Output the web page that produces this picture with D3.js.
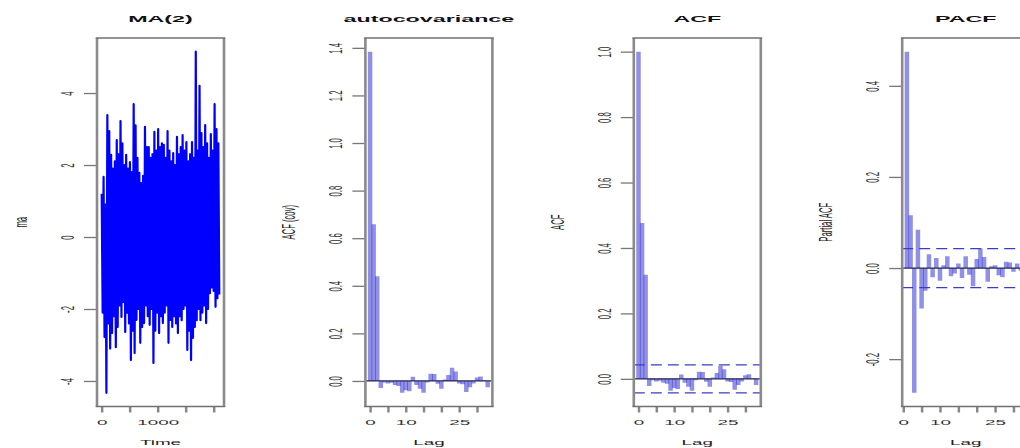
<!DOCTYPE html>
<html>
<head>
<meta charset="utf-8">
<script src="https://cdn.jsdelivr.net/npm/d3@7"></script>
<style>
  body { margin: 0; background: #fff; }
  svg { display: block; background: #fff; }
</style>
</head>
<body>
<div id="chart"></div>
<script>
// ---- data ----

// simulated MA(2) series, sampled across the time axis (alternating up / down swings)
const maSeries = [
  1.2, -2.1, 1.67, -2.78, 0.9,
  -4.33, 3.39, -2.4, 2.94, -3.1,
  2.28, -2.67, 1.9, -2.2, 2.1,
  -3.06, 2.69, -2.5, 2.3, -1.9,
  3.22, -2.22, 2.6, -1.8, 2.0,
  -2.64, 2.28, -2.1, 1.9, -2.4,
  2.08, -3.42, 1.8, -2.6, 3.69,
  -3.22, 3.1, -2.3, 2.2, -2.0,
  1.78, -2.94, 1.5, -2.5, 1.7,
  -2.39, 3.06, -1.9, 2.5, -2.2,
  2.5, -2.44, 2.2, -2.0, 2.3,
  -3.5, 2.92, -2.6, 2.4, -2.1,
  3.0, -2.67, 2.5, -2.2, 2.6,
  -2.39, 2.56, -2.1, 2.2, -1.9,
  2.94, -2.94, 2.4, -2.3, 2.1,
  -2.5, 2.33, -2.2, 2.0, -2.4,
  2.78, -2.67, 2.3, -2.2, 2.5,
  -2.31, 2.83, -2.0, 2.4, -1.9,
  2.64, -3.14, 2.1, -2.6, 2.3,
  -3.42, 2.64, -2.8, 2.2, -2.5,
  5.15, -2.31, 2.4, -2.0, 4.2,
  -2.31, 2.89, -2.1, 2.5, -1.9,
  3.11, -2.39, 2.6, -2.0, 2.2,
  -1.56, 2.86, -1.4, 2.4, -1.5,
  3.69, -1.94, 3.0, -1.7, 2.6,
  -1.6
];
const timeStart = 1, timeEnd = 2100;

const lags = d3.range(0, 34);
const autocov = [
  1.384, 0.659, 0.440, -0.030, -0.006, -0.011, -0.008, -0.017, -0.021, -0.050,
  -0.039, -0.043, 0.018, -0.017, -0.033, -0.050, -0.006, 0.030, 0.029, -0.012,
  -0.033, 0.006, 0.025, 0.055, 0.040, -0.011, -0.014, -0.046, -0.026, -0.011,
  0.015, 0.019, 0.003, -0.026
];
const acfValues = [
  1.000, 0.476, 0.318, -0.022, -0.004, -0.008, -0.006, -0.012, -0.015, -0.036,
  -0.028, -0.031, 0.013, -0.012, -0.024, -0.036, -0.004, 0.022, 0.021, -0.009,
  -0.024, 0.004, 0.018, 0.040, 0.029, -0.008, -0.010, -0.033, -0.019, -0.008,
  0.011, 0.014, 0.002, -0.019
];
const pacfLags = d3.range(1, 34);
const pacfValues = [
  0.475, 0.116, -0.274, 0.084, -0.089, -0.050, 0.030, -0.020, 0.022, -0.028,
  0.006, 0.026, -0.018, -0.012, 0.010, -0.022, 0.026, -0.015, -0.040, 0.020,
  0.043, 0.024, -0.030, 0.004, 0.006, -0.016, -0.020, 0.014, 0.012, -0.008,
  0.010, -0.006, 0.012
];
const ciBound = 0.0428;

const titles = ["MA(2)", "autocovariance", "ACF", "PACF"];
const yTitles = ["ma", "ACF (cov)", "ACF", "Partial ACF"];
const xTitles = ["Time", "Lag", "Lag", "Lag"];

const timeTicks = [0, 500, 1000, 1500, 2000];
const timeTickLabels = ["0", "", "1000", "", ""];
const lagTicks = [0, 5, 10, 15, 20, 25, 30];
const lagTickLabels = ["0", "", "10", "", "", "25", ""];
const maYTicks = [-4, -2, 0, 2, 4];
const acvfYTicks = [0, 0.2, 0.4, 0.6, 0.8, 1.0, 1.2, 1.4];
const acfYTicks = [0, 0.2, 0.4, 0.6, 0.8, 1.0];
const pacfYTicks = [-0.2, 0, 0.2, 0.4];

// ---- layout ----
const width = 1020, height = 448;
const boxLeft = 97, panelStep = 268.4, boxW = 127;
const boxTop = 38, boxBottom = 406.5;
const SX = 2.45;          // the picture is stretched sideways
const FONT = '"Liberation Sans", Arial, sans-serif';
const barColor = "#3434d4";

// R pads axis ranges by 4% on each side
const rPad = ext => {
    let d = (ext[1] - ext[0]) * 0.04;
    return [ext[0] - d, ext[1] + d];
};

const svg = d3.select("#chart").append("svg")
    .attr("width", width)
    .attr("height", height)
    .attr("font-family", FONT);

function drawPanel(i, opts) {
    let x0 = boxLeft + i * panelStep, x1 = x0 + boxW;
    let cx = (x0 + x1) / 2, cy = (boxTop + boxBottom) / 2;
    let g = svg.append("g").attr("class", "panel-" + i);

    let x = d3.scaleLinear().domain(rPad(opts.xExtent)).range([x0, x1]);
    let y = d3.scaleLinear().domain(rPad(opts.yExtent)).range([boxBottom, boxTop]);

    svg.append("clipPath").attr("id", "clip" + i)
        .append("rect")
        .attr("x", x0).attr("y", boxTop)
        .attr("width", boxW).attr("height", boxBottom - boxTop);
    let marks = g.append("g").attr("clip-path", `url(#clip${i})`);

    // y axis, labels rotated like R's default
    let yg = g.append("g")
        .attr("transform", `translate(${x0},0)`)
        .call(d3.axisLeft(y).tickValues(opts.yTicks).tickFormat(opts.yFormat).tickSize(13));
    yg.attr("font-family", FONT).select(".domain").remove();
    yg.selectAll("line").attr("stroke", "#777").attr("stroke-width", 1.3);
    yg.selectAll("text")
        .attr("x", 0).attr("y", 0).attr("dy", null)
        .attr("text-anchor", "middle")
        .attr("font-size", 7.7)
        .attr("fill", "#333")
        .attr("transform", `translate(-23,0) scale(${SX},1) rotate(-90)`);

    // x axis
    let xg = g.append("g")
        .attr("transform", `translate(0,${boxBottom})`)
        .call(d3.axisBottom(x).tickValues(opts.xTicks).tickFormat((d, k) => opts.xTickLabels[k]).tickSize(6));
    xg.attr("font-family", FONT).select(".domain").remove();
    xg.selectAll("line").attr("stroke", "#888").attr("stroke-width", 2.5);
    xg.selectAll("text")
        .attr("y", 0).attr("dy", null)
        .attr("text-anchor", "middle")
        .attr("font-size", 7.7)
        .attr("fill", "#333")
        .attr("transform", `translate(0,18.5) scale(${SX},1)`);

    // titles
    g.append("text")
        .attr("text-anchor", "middle")
        .attr("font-size", 9.5)
        .attr("font-weight", "bold")
        .attr("fill", "#111")
        .attr("transform", `translate(${cx},21.5) scale(${SX},1)`)
        .text(opts.title);
    g.append("text")
        .attr("text-anchor", "middle")
        .attr("font-size", 7.7)
        .attr("fill", "#222")
        .attr("transform", `translate(${cx},445) scale(${SX},1)`)
        .text(opts.xTitle);
    g.append("text")
        .attr("text-anchor", "middle")
        .attr("font-size", 7.7)
        .attr("fill", "#222")
        .attr("transform", `translate(${x0 - 70},${cy}) scale(${SX},1) rotate(-90)`)
        .text(opts.yTitle);

    return {g, marks, x, y, x0, x1};
}

function drawBox(p) {
    let frame = p.g.append("g").attr("class", "frame");
    [p.x0, p.x1].forEach(xv => frame.append("line")
        .attr("x1", xv).attr("x2", xv).attr("y1", boxTop).attr("y2", boxBottom)
        .attr("stroke", "#8a8a8a").attr("stroke-width", 2.6));
    [boxTop, boxBottom].forEach(yv => frame.append("line")
        .attr("x1", p.x0 - 1.3).attr("x2", p.x1 + 1.3).attr("y1", yv).attr("y2", yv)
        .attr("stroke", "#707070").attr("stroke-width", 1.3));
}

function drawBars(p, xs, vals, withCi) {
    p.marks.selectAll("line.bar")
        .data(vals)
        .enter().append("line")
        .attr("class", "bar")
        .attr("x1", (d, k) => p.x(xs[k]))
        .attr("x2", (d, k) => p.x(xs[k]))
        .attr("y1", p.y(0))
        .attr("y2", d => p.y(d))
        .attr("stroke", barColor)
        .attr("stroke-opacity", 0.55)
        .attr("stroke-width", 4.5);

    // abline(h = 0)
    p.marks.append("line")
        .attr("x1", p.x0).attr("x2", p.x1)
        .attr("y1", p.y(0)).attr("y2", p.y(0))
        .attr("stroke", "#262650").attr("stroke-width", 1.2);

    if (withCi) {
        [ciBound, -ciBound].forEach(c => p.marks.append("line")
            .attr("x1", p.x0).attr("x2", p.x1)
            .attr("y1", p.y(c)).attr("y2", p.y(c))
            .attr("stroke", "#3c3cc8")
            .attr("stroke-width", 1.2)
            .attr("stroke-dasharray", "11,6"));
    }
}

// 1: the series
let times = maSeries.map((d, k) => timeStart + k * (timeEnd - timeStart) / (maSeries.length - 1));
let p1 = drawPanel(0, {
    xExtent: [timeStart, timeEnd], yExtent: d3.extent(maSeries),
    xTicks: timeTicks, xTickLabels: timeTickLabels,
    yTicks: maYTicks, yFormat: d => String(d),
    title: titles[0], xTitle: xTitles[0], yTitle: yTitles[0]
});
p1.marks.append("path")
    .datum(maSeries)
    .attr("fill", "none")
    .attr("stroke", "#0000ff")
    .attr("stroke-width", 2.2)
    .attr("stroke-linejoin", "round")
    .attr("d", d3.line().x((d, k) => p1.x(times[k])).y(d => p1.y(d)));
drawBox(p1);

// 2: autocovariance
let p2 = drawPanel(1, {
    xExtent: d3.extent(lags), yExtent: d3.extent(autocov),
    xTicks: lagTicks, xTickLabels: lagTickLabels,
    yTicks: acvfYTicks, yFormat: d => d.toFixed(1),
    title: titles[1], xTitle: xTitles[1], yTitle: yTitles[1]
});
drawBars(p2, lags, autocov, false);
drawBox(p2);

// 3: ACF
let p3 = drawPanel(2, {
    xExtent: d3.extent(lags), yExtent: d3.extent(acfValues.concat([ciBound, -ciBound])),
    xTicks: lagTicks, xTickLabels: lagTickLabels,
    yTicks: acfYTicks, yFormat: d => d.toFixed(1),
    title: titles[2], xTitle: xTitles[2], yTitle: yTitles[2]
});
drawBars(p3, lags, acfValues, true);
drawBox(p3);

// 4: PACF (runs off the right edge, as in the picture)
let p4 = drawPanel(3, {
    xExtent: d3.extent(pacfLags), yExtent: d3.extent(pacfValues.concat([ciBound, -ciBound])),
    xTicks: lagTicks, xTickLabels: lagTickLabels,
    yTicks: pacfYTicks, yFormat: d => d.toFixed(1),
    title: titles[3], xTitle: xTitles[3], yTitle: yTitles[3]
});
drawBars(p4, pacfLags, pacfValues, true);
drawBox(p4);
</script>
</body>
</html>
